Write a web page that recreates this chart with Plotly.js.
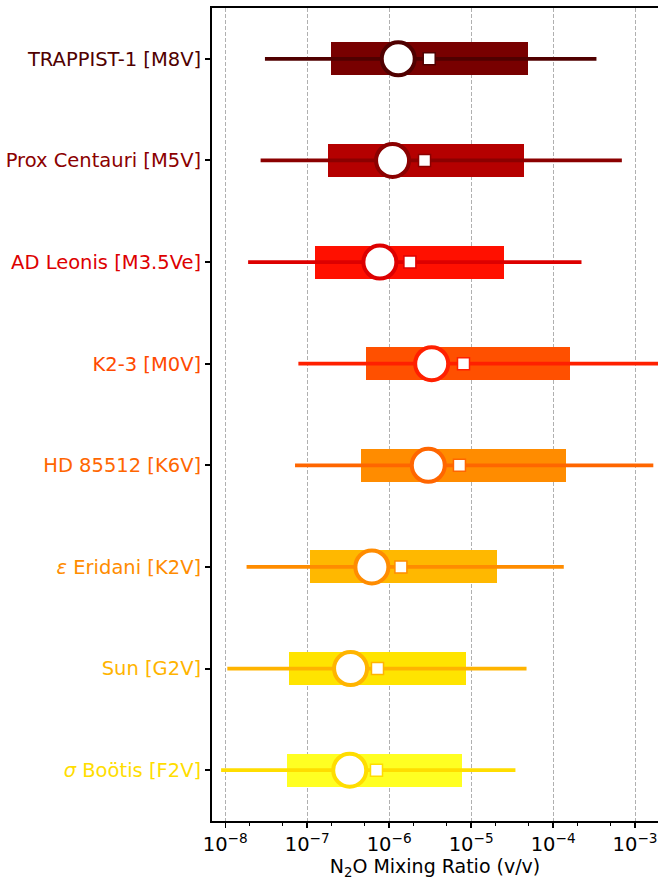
<!DOCTYPE html>
<html>
<head>
<meta charset="utf-8">
<script src="https://cdn.plot.ly/plotly-3.0.1.min.js"></script>
<style>html,body{margin:0;padding:0;background:#fff;overflow:hidden}</style>
</head>
<body>
<div id="chart" style="width:658px;height:880px"></div>
<script>
// Data
const stars = ["TRAPPIST-1 [M8V]", "Prox Centauri [M5V]", "AD Leonis [M3.5Ve]", "K2-3 [M0V]",
               "HD 85512 [K6V]", "<i>\u03B5</i> Eridani [K2V]", "Sun [G2V]", "<i>\u03C3</i> Bo\u00F6tis [F2V]"];
const whiskerLow  = [3.05e-8, 2.7e-8, 1.9e-8, 7.8e-8, 7.1e-8, 1.82e-8, 1.06e-8, 8.9e-9];
const whiskerHigh = [3.38e-4, 6.9e-4, 2.22e-4, 2.5e-3, 1.67e-3, 1.35e-4, 4.74e-5, 3.47e-5];
const boxLow      = [1.95e-7, 1.8e-7, 1.25e-7, 5.2e-7, 4.5e-7, 1.09e-7, 6.0e-8, 5.7e-8];
const boxHigh     = [4.9e-5, 4.4e-5, 2.5e-5, 1.6e-4, 1.43e-4, 2.04e-5, 8.55e-6, 7.7e-6];
const medians     = [1.29e-6, 1.1e-6, 7.7e-7, 3.3e-6, 3.0e-6, 6.15e-7, 3.38e-7, 3.3e-7];
const means       = [3.08e-6, 2.7e-6, 1.79e-6, 8.07e-6, 7.2e-6, 1.39e-6, 7.2e-7, 7.0e-7];
const barColors   = ["#780000", "#b50000", "#ff1000", "#ff5000", "#ff8c00", "#ffb800", "#ffe400", "#ffff22"];
const lineColors  = ["#500000", "#8b0000", "#dd0000", "#ff2000", "#ff6600", "#ff8c00", "#ffb400", "#ffdd00"];
const labelColors = ["#500000", "#8b0000", "#dd0000", "#ff4a00", "#ff6600", "#ff8c00", "#ffb400", "#ffdd00"];
const xTickVals   = [1e-8, 1e-7, 1e-6, 1e-5, 1e-4, 1e-3];
const xTickText   = ["10<sup>\u22128</sup>", "10<sup>\u22127</sup>", "10<sup>\u22126</sup>",
                     "10<sup>\u22125</sup>", "10<sup>\u22124</sup>", "10<sup>\u22123</sup>"];

const idx = stars.map((_, i) => i);
const traces = [];

traces.push({
  type: "bar", orientation: "h",
  y: idx, base: boxLow, x: boxHigh.map((h, i) => h - boxLow[i]),
  width: 0.325,
  marker: {color: barColors, line: {width: 0}},
  hoverinfo: "skip", showlegend: false
});

idx.forEach(i => {
  traces.push({
    type: "scatter", mode: "lines",
    x: [whiskerLow[i], whiskerHigh[i]], y: [i, i],
    line: {color: lineColors[i], width: 3.7},
    hoverinfo: "skip", showlegend: false, cliponaxis: true
  });
});

traces.push({
  type: "scatter", mode: "markers",
  x: medians, y: idx,
  marker: {symbol: "circle", size: 33, color: "#ffffff", line: {color: lineColors, width: 4}},
  showlegend: false, cliponaxis: false
});
traces.push({
  type: "scatter", mode: "markers",
  x: means, y: idx,
  marker: {symbol: "square", size: 12, color: "#ffffff", line: {color: lineColors, width: 1.5}},
  showlegend: false, cliponaxis: false
});

const tickText = stars.map((s, i) => `<span style="color:${labelColors[i]}">${s}</span>`);

const layout = {
  width: 658, height: 880,
  margin: {l: 212, r: 0, t: 8, b: 59, pad: 0},
  paper_bgcolor: "#ffffff", plot_bgcolor: "#ffffff",
  font: {family: "DejaVu Sans, sans-serif", size: 19.5, color: "#000"},
  bargap: 0,
  xaxis: {
    type: "log", range: [Math.log10(6.89e-9), Math.log10(1.905e-3)],
    tickvals: xTickVals, ticktext: xTickText,
    ticks: "outside", ticklen: 5, tickwidth: 1.5, tickcolor: "#000",
    showline: true, linecolor: "#000", linewidth: 2, mirror: true,
    showgrid: true, gridcolor: "#b0b0b0", griddash: "4px,2px", gridwidth: 1,
    zeroline: false,
    minor: {ticks: "outside", ticklen: 3, tickwidth: 1, tickcolor: "#000", showgrid: false},
    tickfont: {size: 19.5, color: "#000"},
    title: {text: "N<sub>2</sub>O Mixing Ratio (v/v)", font: {size: 19, color: "#000"}, standoff: 4}
  },
  yaxis: {
    range: [7.5, -0.5],
    tickvals: idx, ticktext: tickText,
    ticks: "outside", ticklen: 5, tickwidth: 2, tickcolor: "#000",
    showline: true, linecolor: "#000", linewidth: 2, mirror: false,
    showgrid: false, zeroline: false,
    tickfont: {size: 19.5}
  }
};

Plotly.newPlot("chart", traces, layout, {displayModeBar: false, staticPlot: true});
</script>
</body>
</html>
